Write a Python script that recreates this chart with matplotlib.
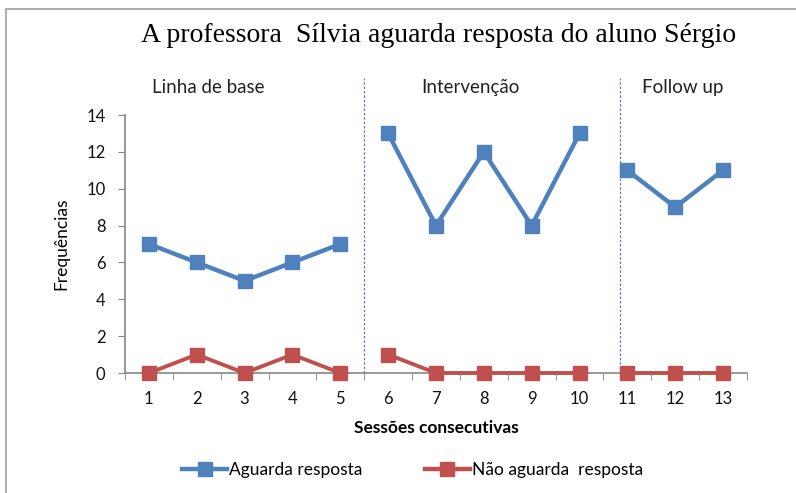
import numpy as np
import matplotlib
matplotlib.use("Agg")
import matplotlib.pyplot as plt
from matplotlib.lines import Line2D
import matplotlib.transforms as mtransforms

sessions = list(range(1, 14))
phases = ["Linha de base", "Intervenção", "Follow up"]
phase_sessions = [[1, 2, 3, 4, 5], [6, 7, 8, 9, 10], [11, 12, 13]]
aguarda = [7, 6, 5, 6, 7, 13, 8, 12, 8, 13, 11, 9, 11]
nao_aguarda = [0, 1, 0, 1, 0, 1, 0, 0, 0, 0, 0, 0, 0]

title = "A professora  Sílvia aguarda resposta do aluno Sérgio"
blue = "#4F81BD"
red = "#C0504D"
gray = "#868686"
sans = ["Lato", "DejaVu Sans"]

fig = plt.figure(figsize=(7.96, 4.93), dpi=100)
ax = fig.add_axes([0.157, 0.2434, 0.7814, 0.5233])

vals_b = dict(zip(sessions, aguarda))
vals_r = dict(zip(sessions, nao_aguarda))
for ps in phase_sessions:
    ax.plot(ps, [vals_r[s] for s in ps], color=red, lw=2.8, marker="s", ms=10.5, zorder=3, clip_on=False)
    ax.plot(ps, [vals_b[s] for s in ps], color=blue, lw=3.2, marker="s", ms=10.5, zorder=4, clip_on=False)

ax.set_xlim(0.5, 13.5)
ax.set_ylim(0, 14)
ax.set_yticks(range(0, 15, 2))
ax.set_xticks(sessions)
ax.set_xticks(np.arange(0.5, 14, 1), minor=True)
ax.tick_params(axis="x", which="major", length=0, pad=13, labelsize=12, labelcolor="#111111")
ax.tick_params(axis="x", which="minor", length=5, color=gray, direction="out")
ax.tick_params(axis="y", length=5, color=gray, direction="out", labelsize=12, pad=9, labelcolor="#111111")
for lab in ax.get_xticklabels() + ax.get_yticklabels():
    lab.set_family(sans)
for sp in ["top", "right"]:
    ax.spines[sp].set_visible(False)
for sp in ["left", "bottom"]:
    ax.spines[sp].set_color(gray)
    ax.spines[sp].set_linewidth(1.2)

# phase separators
trans = mtransforms.blended_transform_factory(ax.transData, ax.transAxes)
for xv in [5.49, 10.85]:
    ax.plot([xv, xv], [0, 1.145], transform=trans,
            color=blue, lw=0.9, ls=(0, (2, 1.5)), clip_on=False, zorder=2)

for name, xc in zip(phases, [2.25, 7.72, 12.16]):
    ax.text(xc, 1.105, name, transform=trans, ha="center", va="center", fontsize=13.5, family=sans, color="#222222")

ax.set_xlabel("Sessões consecutivas", fontsize=12.5, fontweight="bold", family=sans, labelpad=9)
ax.set_ylabel("Frequências", fontsize=12.5, family=sans, labelpad=12)

fig.text(0.551, 0.929, title, ha="center", va="center", fontsize=20, family=["Liberation Serif", "DejaVu Serif"])

handles = [Line2D([0], [0], color=blue, lw=3.2, marker="s", ms=10),
           Line2D([0], [0], color=red, lw=3.2, marker="s", ms=10)]
fig.legend(handles, ["Aguarda resposta", "Não aguarda  resposta"], loc="center", bbox_to_anchor=(0.518, 0.047),
           ncol=2, frameon=False, handlelength=2.6, handletextpad=0.1, columnspacing=3.6,
           prop={"family": sans, "size": 12.5})

# chart border (top & left visible)
fig.add_artist(plt.Rectangle((6 / 796, -0.1), 1.2, 1 - 9 / 493 + 0.1, transform=fig.transFigure,
                             fill=False, edgecolor="#A0A0A0", lw=1.2))

fig.savefig("out.png", dpi=100)
